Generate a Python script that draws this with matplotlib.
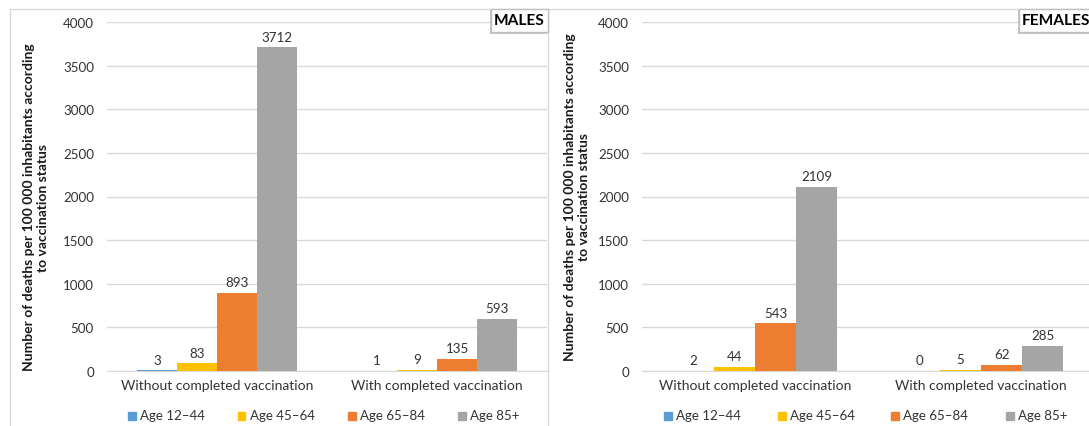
import numpy as np
import matplotlib
matplotlib.use('Agg')
import matplotlib.pyplot as plt
from matplotlib.patches import Rectangle
from matplotlib.lines import Line2D

plt.rcParams['font.family'] = ['Lato', 'DejaVu Sans']

# data
categories = ['Without completed vaccination', 'With completed vaccination']
age_groups = ['Age 12\u201344', 'Age 45\u201364', 'Age 65\u201384', 'Age 85+']
colors = ['#5B9BD5', '#FFC000', '#ED7D31', '#A5A5A5']

males_without = [3, 83, 893, 3712]
males_with = [1, 9, 135, 593]
females_without = [2, 44, 543, 2109]
females_with = [0, 5, 62, 285]

W, H = 1089, 427
fig = plt.figure(figsize=(W / 100, H / 100), dpi=100)
renderer = fig.canvas.get_renderer()
text_col = '#333333'
grid_col = '#D9D9D9'
ylab = 'Number of deaths per 100 000 inhabitants according\nto vaccination status'


def fit_size(s, target_px, weight='normal'):
    # font size that gives the text the wanted pixel width
    t = fig.text(0, 0, s, fontsize=10, fontweight=weight)
    w = t.get_window_extent(renderer).width
    t.remove()
    return 10 * target_px / w


fs_tick = fit_size('4000', 31)
fs_cat = fit_size(categories[0], 192)
fs_val = fs_tick
fs_leg = 0.5 * (fs_cat + fit_size(age_groups[0], 63))
fs_ylab = fit_size(ylab.split('\n')[0], 329, 'bold')
fs_title = fit_size('MALES', 51, 'bold')


def px(x0, y0, x1, y1):
    # pixel box (top-left origin) -> figure fraction
    return [x0 / W, 1 - y1 / H, (x1 - x0) / W, (y1 - y0) / H]


def panel(ax_box, without, with_, title, title_box, legend_x, ylab_xy):
    ax = fig.add_axes(px(*ax_box))
    x = np.arange(len(categories))
    bw = 0.182
    for i, age in enumerate(age_groups):
        vals = [without[i], with_[i]]
        pos = x + (i - 1.5) * bw
        bars = ax.bar(pos, vals, bw, color=colors[i], label=age, zorder=3)
        for b, v in zip(bars, vals):
            ax.annotate(str(v), (b.get_x() + b.get_width() / 2, v),
                        xytext=(0, 3.5), textcoords='offset points',
                        ha='center', va='bottom', fontsize=fs_val, color=text_col)
    ax.set_ylim(0, 4000)
    ax.set_xlim(-0.5, 1.5)
    ax.set_yticks(np.arange(0, 4001, 500))
    ax.set_xticks(x)
    ax.set_xticklabels(categories, fontsize=fs_cat, color=text_col)
    ax.tick_params(axis='y', labelsize=fs_tick, labelcolor=text_col, length=0, pad=9.4)
    ax.tick_params(axis='x', length=0, pad=6)
    ax.grid(axis='y', color=grid_col, linewidth=1, zorder=0)
    for s in ['top', 'right', 'left']:
        ax.spines[s].set_visible(False)
    ax.spines['bottom'].set_color(grid_col)
    fig.text(ylab_xy[0] / W, 1 - ylab_xy[1] / H, ylab, rotation=90,
             fontsize=fs_ylab, fontweight='bold', color='#1a1a1a',
             ha='center', va='center', multialignment='center')

    # legend
    for i, age in enumerate(age_groups):
        lx = legend_x[i]
        fig.patches.append(Rectangle((lx / W, 1 - 420.5 / H), 7.5 / W, 7.5 / H,
                                     transform=fig.transFigure, color=colors[i]))
        fig.text((lx + 12) / W, 1 - 416.5 / H, age, fontsize=fs_leg, color=text_col,
                 va='center', ha='left')

    # title box with a light shadow
    tx0, ty0, tx1, ty1 = title_box
    fig.patches.append(Rectangle(((tx0 - 1.5) / W, 1 - (ty1 + 1.5) / H), (tx1 - tx0) / W,
                                 (ty1 - ty0) / H, transform=fig.transFigure,
                                 facecolor='#C8C8C8', edgecolor='none', zorder=4))
    fig.patches.append(Rectangle((tx0 / W, 1 - ty1 / H), (tx1 - tx0) / W, (ty1 - ty0) / H,
                                 transform=fig.transFigure, facecolor='white',
                                 edgecolor='#BFBFBF', linewidth=1, zorder=5))
    fig.text((tx0 + 2.5) / W, 1 - (ty0 + ty1) / 2 / H, title, fontsize=fs_title,
             fontweight='bold', color='black', va='center', ha='left', zorder=6)
    return ax


# panel frames
for xp in [10, 548]:
    fig.add_artist(Line2D([xp / W, xp / W], [0, 1 - 9.5 / H], color=grid_col, linewidth=1))
fig.add_artist(Line2D([10 / W, 1], [1 - 9.5 / H, 1 - 9.5 / H], color=grid_col, linewidth=1))

panel((107, 23.3, 547, 371.7), males_without, males_with,
      'MALES', (491, 9.5, 548, 33), [128, 238, 348, 458], (36, 207.5))
panel((642, 23.3, 1094, 371.7), females_without, females_with,
      'FEMALES', (1019, 9.5, 1100, 33), [664, 778, 891, 1006], (577, 197))

fig.savefig('out.png', dpi=100)
